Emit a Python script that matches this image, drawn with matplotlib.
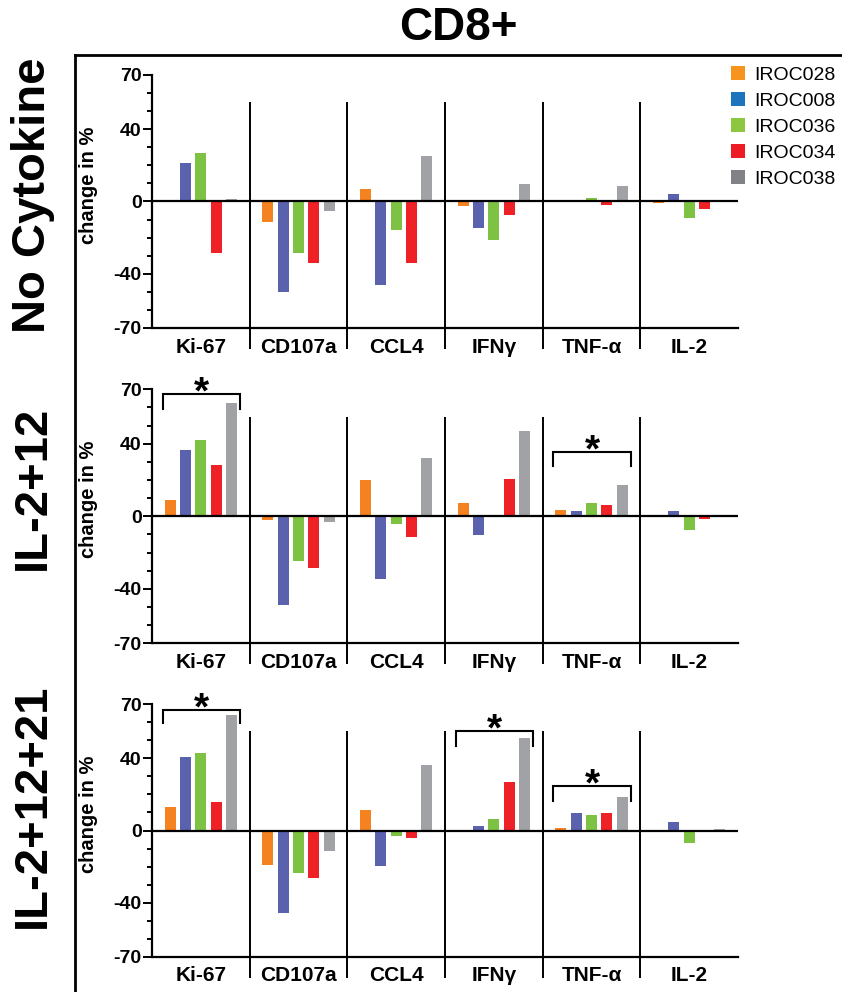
import matplotlib
matplotlib.use("Agg")
import matplotlib.pyplot as plt
from matplotlib.patches import Patch
from matplotlib.lines import Line2D
import numpy as np

plt.rcParams['font.family'] = ['Liberation Sans', 'DejaVu Sans']

# data
markers = ["Ki-67", "CD107a", "CCL4", "IFNγ", "TNF-α", "IL-2"]
donors = ["IROC028", "IROC008", "IROC036", "IROC034", "IROC038"]
conditions = ["No Cytokine", "IL-2+12", "IL-2+12+21"]

no_cytokine = [
    [0, -11.3, 6.8, -2.4, 0, -0.7],
    [21.2, -50.0, -46.1, -14.6, 0, 4.1],
    [26.8, -28.4, -15.7, -21.2, 1.8, -9.0],
    [-28.4, -34.0, -34.0, -7.4, -1.8, -4.1],
    [1.3, -5.2, 25.1, 9.6, 8.5, 0],
]
il2_12 = [
    [9.2, -1.8, 20.2, 7.5, 3.7, 0],
    [36.8, -49.1, -34.4, -10.1, 3.1, 3.1],
    [41.9, -24.8, -4.4, -0.5, 7.5, -7.4],
    [28.5, -28.3, -11.2, 20.8, 6.4, -1.3],
    [62.3, -2.9, 32.4, 47.2, 17.5, 0.3],
]
il2_12_21 = [
    [12.8, -18.9, 11.5, 0, 1.5, 0],
    [40.9, -45.5, -19.6, 2.6, 9.8, 4.8],
    [43.1, -23.8, -2.8, 6.5, 8.7, -6.7],
    [15.9, -26.1, -4.4, 27.0, 9.8, 0],
    [64.3, -11.6, 36.4, 51.4, 18.7, 0.7],
]
panels = [no_cytokine, il2_12, il2_12_21]

# significance brackets: (panel, marker index, top, leg bottom)
brackets = [
    (1, 0, 67.6, 59.3),
    (1, 4, 35.3, 27.5),
    (2, 0, 66.9, 59.5),
    (2, 3, 55.1, 47.0),
    (2, 4, 24.8, 16.6),
]

bar_colors = ["#f58220", "#5b62ad", "#7dc242", "#ee2226", "#a0a2a5"]
legend_colors = ["#f7941e", "#1c75bc", "#8dc63f", "#ed1c24", "#808285"]

W, H = 842, 992
fig = plt.figure(figsize=(W / 100, H / 100), dpi=100)

# axes boxes in pixels: top, bottom
boxes = [(75, 328), (389.3, 643.3), (704.3, 956.7)]
row_label_y = [195, 487.5, 806]
left, right = 152, 738

x = np.arange(len(markers))
step = 0.157
width = 0.113

axes = []
for p, (top, bot) in enumerate(boxes):
    ax = fig.add_axes([left / W, 1 - bot / H, (right - left) / W, (bot - top) / H])
    axes.append(ax)
    data = panels[p]
    for i in range(len(donors)):
        ax.bar(x + 0.5 + (i - 2) * step, data[i], width, color=bar_colors[i], zorder=2)
    ax.axhline(0, color="black", lw=1.6, zorder=3)
    ax.vlines(np.arange(1, len(markers)), -70, 55, color="black", lw=1.4)
    ax.set_xlim(0, len(markers))
    ax.set_ylim(-70, 70)

    ax.spines["top"].set_visible(False)
    ax.spines["right"].set_visible(False)
    ax.spines["left"].set_bounds(-70, 70)
    ax.spines["left"].set_linewidth(1.6)
    ax.spines["bottom"].set_linewidth(1.6)

    ax.set_yticks([-70, -40, 0, 40, 70])
    ax.set_yticklabels(["-70", "-40", "0", "40", "70"], fontsize=14, fontweight="bold")
    ax.set_yticks(np.arange(-70, 71, 10), minor=True)
    ax.tick_params(axis="y", which="major", length=6.5, width=1.4, pad=1)
    ax.tick_params(axis="y", which="minor", length=3.6, width=1.4)

    ax.set_xticks(np.arange(1, len(markers)))
    ax.set_xticklabels([])
    ax.set_xticks(x + 0.5, minor=True)
    ax.set_xticklabels(markers, minor=True, fontsize=15, fontweight="bold")
    ax.tick_params(axis="x", which="major", length=15, width=1.4, direction="out")
    ax.tick_params(axis="x", which="minor", length=0, pad=7)

    ax.set_ylabel("change in %", fontsize=14.5, fontweight="bold")
    ax.yaxis.set_label_coords(-0.092, 0.565)

    fig.text(33 / W, 1 - row_label_y[p] / H, conditions[p], rotation=90,
             fontsize=34, fontweight="bold", ha="center", va="center")

for p, g, top, leg in brackets:
    ax = axes[p]
    x0, x1 = g + 0.11, g + 0.9
    ax.plot([x0, x0, x1, x1], [leg, top, top, leg], color="black", lw=1.5,
            solid_joinstyle="miter", clip_on=False)
    ax.annotate("*", xy=((x0 + x1) / 2, top), xytext=(0, -7), textcoords="offset points",
                ha="center", va="baseline", fontsize=28, fontweight="bold",
                annotation_clip=False)

fig.text(458 / W, 1 - 28 / H, "CD8+", fontsize=33, fontweight="bold",
         ha="center", va="center")

# frame lines
fig.add_artist(Line2D([75 / W, 75 / W], [1 - 55 / H, 0], color="black", lw=2,
                      transform=fig.transFigure))
fig.add_artist(Line2D([75 / W, 1], [1 - 55 / H, 1 - 55 / H], color="black", lw=2,
                      transform=fig.transFigure))

handles = [Patch(facecolor=c, edgecolor="none") for c in legend_colors]
fig.legend(handles, donors, loc="upper left", bbox_to_anchor=(731 / W, 1 - 66 / H),
           frameon=False, fontsize=14, handlelength=0.72, handleheight=0.72,
           handletextpad=0.46, labelspacing=0.43, borderpad=0, borderaxespad=0)

fig.savefig("out.png", dpi=100)
